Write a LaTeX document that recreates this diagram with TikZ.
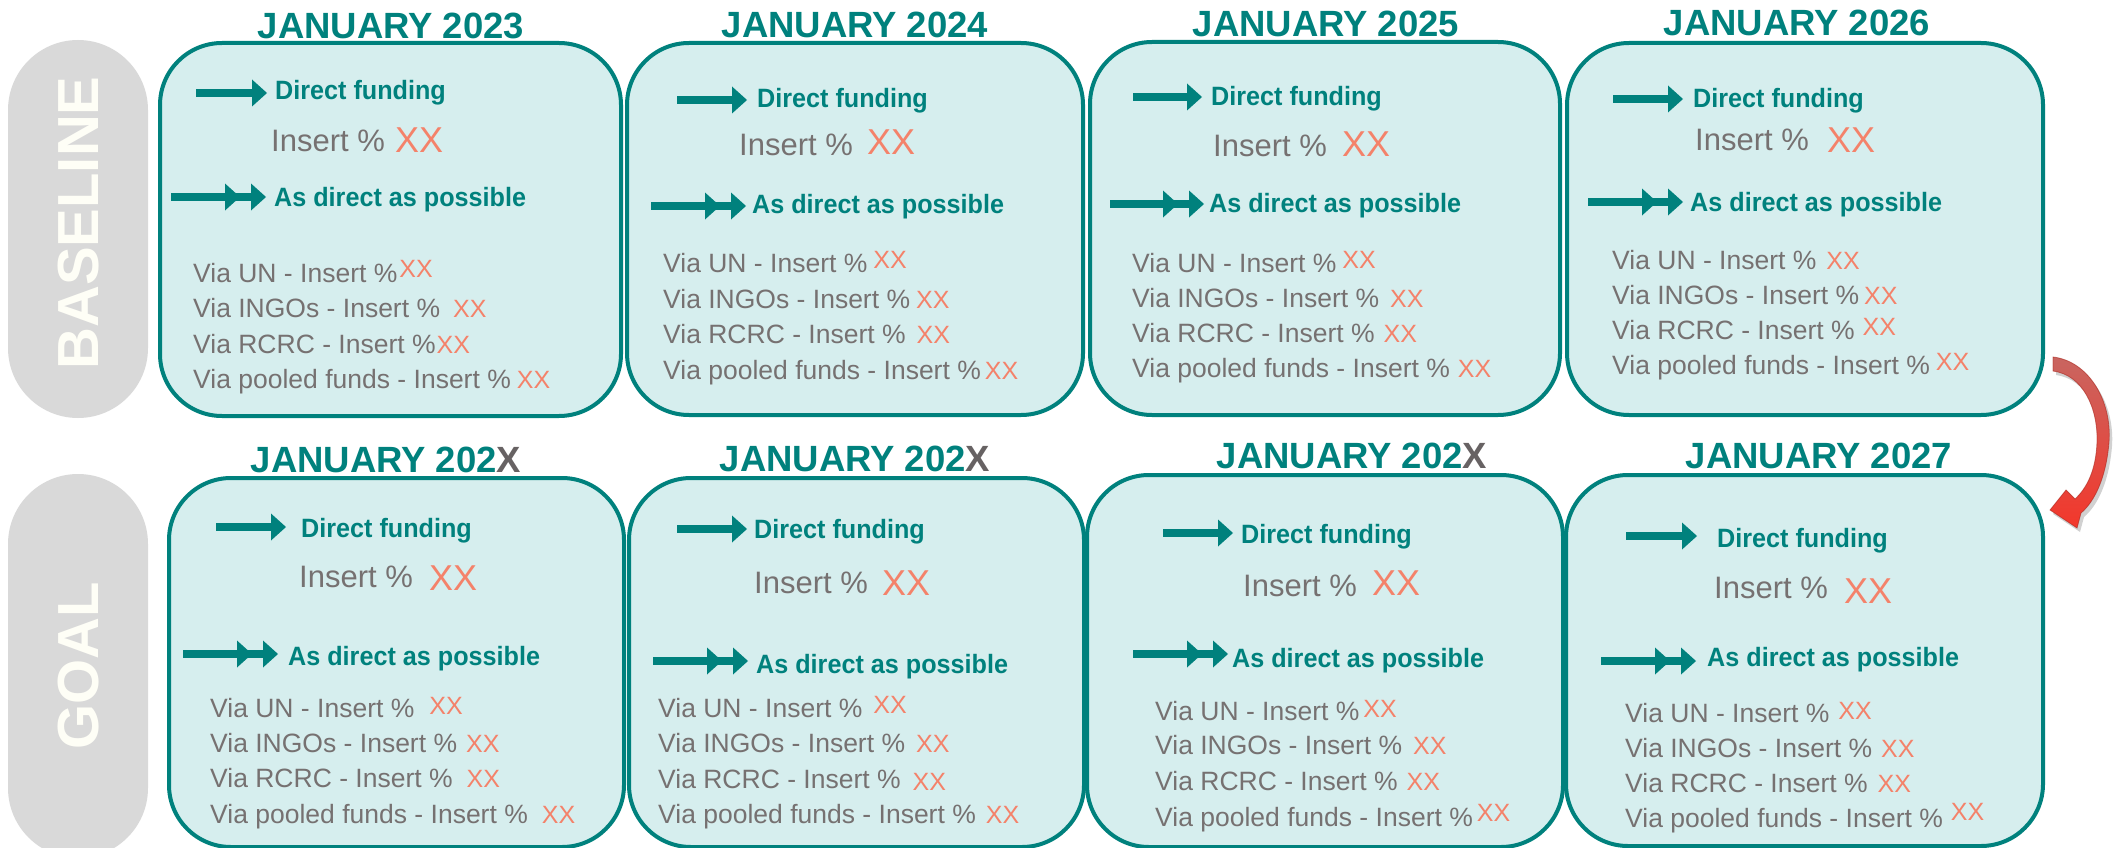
\documentclass[tikz,border=0pt]{standalone}
\usepackage{fontspec}
\setmainfont{Liberation Sans}
\newfontfamily\condfont[FakeStretch=0.95]{Liberation Sans}

\definecolor{brandteal}{HTML}{00817D}
\definecolor{boxfill}{HTML}{D6EEEE}
\definecolor{txtgray}{HTML}{767171}
\definecolor{xxsalmon}{HTML}{F4826A}
\definecolor{pillgray}{HTML}{D9D9D9}
\definecolor{pillword}{HTML}{FEFEF6}
\definecolor{yeargray}{HTML}{676263}
\definecolor{arrowtop}{HTML}{C96560}
\definecolor{arrowbot}{HTML}{F3372B}

\tikzset{
  fundbox/.style={draw=brandteal, line width=4pt, fill=boxfill,
    rounded corners=62pt, inner sep=0pt, outer sep=0pt},
  yearhead/.style={anchor=base, inner sep=0pt, text=brandteal,
    font=\fontsize{36.5}{40}\selectfont\bfseries},
  subhead/.style={anchor=base west, inner sep=0pt, text=brandteal,
    font=\condfont\fontsize{26.5}{30}\selectfont\bfseries},
  share/.style={anchor=base west, inner sep=0pt, text=txtgray,
    font=\fontsize{31}{34}\selectfont},
  bigxx/.style={anchor=base west, inner sep=0pt, text=xxsalmon,
    font=\fontsize{36}{40}\selectfont},
  via/.style={anchor=base west, inner sep=0pt, text=txtgray,
    font=\fontsize{26.5}{30}\selectfont},
  pill/.style={fill=pillgray, rounded corners=70pt, inner sep=0pt},
  pilllabel/.style={rotate=90, inner sep=0pt, text=pillword,
    font=\fontsize{58}{60}\selectfont\bfseries},
  shaft/.style={draw=brandteal, line width=7.5pt},
  tiphead/.style={fill=brandteal},
}

% single teal arrow: start x, tip x, y
\newcommand{\singlearrow}[3]{%
  \draw[shaft] (#1,#3) -- (#2-14,#3);
  \fill[tiphead] (#2-15,#3-13.5) -- (#2,#3) -- (#2-15,#3+13.5) -- cycle;}
% double-headed teal arrow: start x, tip x, y
\newcommand{\doublearrow}[3]{%
  \draw[shaft] (#1,#3) -- (#2-14,#3);
  \fill[tiphead] (#2-41,#3-13.5) -- (#2-26,#3) -- (#2-41,#3+13.5) -- cycle;
  \fill[tiphead] (#2-15,#3-13.5) -- (#2,#3) -- (#2-15,#3+13.5) -- cycle;}
% salmon placeholder after a list entry: gap, raise
\newcommand{\xx}[2]{\hspace*{#1pt}\raisebox{#2pt}{\fontsize{25}{28}\selectfont\color{xxsalmon}XX}}

\def\redarrowpath{(2053,357) .. controls (2088,361) and (2112,400) .. (2109,442)
  .. controls (2106,479) and (2094,502) .. (2081,513) -- (2077,528) -- (2050,510)
  -- (2066,490) -- (2075,499) .. controls (2087,488) and (2096,470) .. (2097,442)
  .. controls (2098,408) and (2083,375) .. (2053,371) -- cycle}

\begin{document}
\begin{tikzpicture}[x=1pt, y=-1pt]
\clip (0,0) rectangle (2127,848);
\fill[white] (0,0) rectangle (2127,848);

% row labels
\node[pill, minimum width=140pt, minimum height=378pt] (basepill) at (78,229) {};
\node[pilllabel] (baselbl) at (79,223) {BASELINE};
\node[pill, minimum width=140pt, minimum height=384pt] (goalpill) at (78,666) {};
\node[pilllabel] (goallbl) at (79,666) {GOAL};

% ---------- baseline row ----------
% January 2023
\node[fundbox, minimum width=461pt, minimum height=373pt] (t1) at (390.5,229.5) {};
\node[yearhead] (t1h) at (391,39) {JANUARY 2023};
\singlearrow{196}{267}{93}
\node[subhead] (t1d) at (275,100) {Direct funding};
\node[share] (t1i) at (271,151) {Insert \%};
\node[bigxx] (t1x) at (395,152) {XX};
\doublearrow{171}{266}{197}
\node[subhead] (t1a) at (274,206) {As direct as possible};
\node[via] (t1l1) at (193,282) {Via UN - Insert \%\xx{2}{5}};
\node[via] (t1l2) at (193,317) {Via INGOs - Insert \%\xx{13}{0}};
\node[via] (t1l3) at (193,353) {Via RCRC - Insert \%\xx{1}{0}};
\node[via] (t1l4) at (193,388) {Via pooled funds - Insert \%\xx{6}{0}};

% January 2024
\node[fundbox, minimum width=456pt, minimum height=372pt] (t2) at (855,229) {};
\node[yearhead] (t2h) at (855,38) {JANUARY 2024};
\singlearrow{677}{747}{100}
\node[subhead] (t2d) at (757,108) {Direct funding};
\node[share] (t2i) at (739,155) {Insert \%};
\node[bigxx] (t2x) at (867,154) {XX};
\doublearrow{651}{746}{206}
\node[subhead] (t2a) at (752,213) {As direct as possible};
\node[via] (t2l1) at (663,272) {Via UN - Insert \%\xx{6}{4}};
\node[via] (t2l2) at (663,308) {Via INGOs - Insert \%\xx{6}{0}};
\node[via] (t2l3) at (663,343) {Via RCRC - Insert \%\xx{11}{0}};
\node[via] (t2l4) at (663,379) {Via pooled funds - Insert \%\xx{4}{0}};

% January 2025
\node[fundbox, minimum width=470pt, minimum height=373pt] (t3) at (1325,228.5) {};
\node[yearhead] (t3h) at (1326,37) {JANUARY 2025};
\singlearrow{1133}{1202}{97}
\node[subhead] (t3d) at (1211,106) {Direct funding};
\node[share] (t3i) at (1213,156) {Insert \%};
\node[bigxx] (t3x) at (1342,157) {XX};
\doublearrow{1110}{1204}{204}
\node[subhead] (t3a) at (1209,212) {As direct as possible};
\node[via] (t3l1) at (1132,272) {Via UN - Insert \%\xx{6}{4}};
\node[via] (t3l2) at (1132,307) {Via INGOs - Insert \%\xx{11}{0}};
\node[via] (t3l3) at (1132,342) {Via RCRC - Insert \%\xx{9}{0}};
\node[via] (t3l4) at (1132,377) {Via pooled funds - Insert \%\xx{8}{0}};

% January 2026
\node[fundbox, minimum width=476pt, minimum height=372pt] (t4) at (1805,229) {};
\node[yearhead] (t4h) at (1797,36) {JANUARY 2026};
\singlearrow{1613}{1683}{99}
\node[subhead] (t4d) at (1693,108) {Direct funding};
\node[share] (t4i) at (1695,150) {Insert \%};
\node[bigxx] (t4x) at (1827,152) {XX};
\doublearrow{1588}{1683}{202}
\node[subhead] (t4a) at (1690,211) {As direct as possible};
\node[via] (t4l1) at (1612,269) {Via UN - Insert \%\xx{10}{0}};
\node[via] (t4l2) at (1612,304) {Via INGOs - Insert \%\xx{5}{0}};
\node[via] (t4l3) at (1612,339) {Via RCRC - Insert \%\xx{8}{4}};
\node[via] (t4l4) at (1612,374) {Via pooled funds - Insert \%\xx{6}{4}};

% ---------- goal row ----------
% January 202X (1)
\node[fundbox, minimum width=455pt, minimum height=369pt] (g1) at (396.5,662.5) {};
\node[yearhead] (g1h) at (386,472) {JANUARY 202\textcolor{yeargray}{X}};
\singlearrow{216}{286}{527}
\node[subhead] (g1d) at (301,537) {Direct funding};
\node[share] (g1i) at (299,587) {Insert \%};
\node[bigxx] (g1x) at (429,590) {XX};
\doublearrow{183}{278}{654}
\node[subhead] (g1a) at (288,665) {As direct as possible};
\node[via] (g1l1) at (210,717) {Via UN - Insert \%\xx{15}{3}};
\node[via] (g1l2) at (210,752) {Via INGOs - Insert \%\xx{9}{0}};
\node[via] (g1l3) at (210,787) {Via RCRC - Insert \%\xx{14}{0}};
\node[via] (g1l4) at (210,823) {Via pooled funds - Insert \%\xx{14}{0}};

% January 202X (2)
\node[fundbox, minimum width=455pt, minimum height=369pt] (g2) at (856.5,662.5) {};
\node[yearhead] (g2h) at (855,471) {JANUARY 202\textcolor{yeargray}{X}};
\singlearrow{677}{747}{529}
\node[subhead] (g2d) at (754,538) {Direct funding};
\node[share] (g2i) at (754,593) {Insert \%};
\node[bigxx] (g2x) at (882,595) {XX};
\doublearrow{653}{748}{661}
\node[subhead] (g2a) at (756,673) {As direct as possible};
\node[via] (g2l1) at (658,717) {Via UN - Insert \%\xx{11}{4}};
\node[via] (g2l2) at (658,752) {Via INGOs - Insert \%\xx{11}{0}};
\node[via] (g2l3) at (658,788) {Via RCRC - Insert \%\xx{12}{-2}};
\node[via] (g2l4) at (658,823) {Via pooled funds - Insert \%\xx{10}{0}};

% January 202X (3)
\node[fundbox, minimum width=476pt, minimum height=372pt] (g3) at (1325,661) {};
\node[yearhead] (g3h) at (1352,468) {JANUARY 202\textcolor{yeargray}{X}};
\singlearrow{1163}{1233}{533}
\node[subhead] (g3d) at (1241,543) {Direct funding};
\node[share] (g3i) at (1243,596) {Insert \%};
\node[bigxx] (g3x) at (1372,595) {XX};
\doublearrow{1133}{1228}{654}
\node[subhead] (g3a) at (1232,667) {As direct as possible};
\node[via] (g3l1) at (1155,720) {Via UN - Insert \%\xx{4}{3}};
\node[via] (g3l2) at (1155,754) {Via INGOs - Insert \%\xx{11}{0}};
\node[via] (g3l3) at (1155,790) {Via RCRC - Insert \%\xx{9}{0}};
\node[via] (g3l4) at (1155,826) {Via pooled funds - Insert \%\xx{4}{5}};

% January 2027
\node[fundbox, minimum width=477pt, minimum height=371pt] (g4) at (1804.5,660.5) {};
\node[yearhead] (g4h) at (1819,468) {JANUARY 2027};
\singlearrow{1626}{1697}{536}
\node[subhead] (g4d) at (1717,547) {Direct funding};
\node[share] (g4i) at (1714,598) {Insert \%};
\node[bigxx] (g4x) at (1844,603) {XX};
\doublearrow{1601}{1696}{661}
\node[subhead] (g4a) at (1707,666) {As direct as possible};
\node[via] (g4l1) at (1625,722) {Via UN - Insert \%\xx{9}{3}};
\node[via] (g4l2) at (1625,757) {Via INGOs - Insert \%\xx{9}{0}};
\node[via] (g4l3) at (1625,792) {Via RCRC - Insert \%\xx{10}{0}};
\node[via] (g4l4) at (1625,827) {Via pooled funds - Insert \%\xx{8}{7}};

% curved red arrow from 2026 down to 2027
\begin{scope}[shift={(3,4)}]
  \fill[black, opacity=0.18] \redarrowpath;
\end{scope}
\shade[top color=arrowtop, bottom color=arrowbot] \redarrowpath;
\draw[draw=arrowbot!70!black, line width=0.8pt, opacity=0.6] \redarrowpath;
\end{tikzpicture}
\end{document}
